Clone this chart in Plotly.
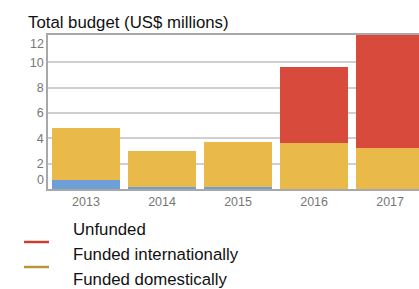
import plotly.graph_objects as go

years = ["2013", "2014", "2015", "2016", "2017"]
funded_domestically = [0.7, 0.15, 0.15, 0.0, 0.0]
funded_internationally = [4.15, 2.85, 3.55, 3.6, 3.25]
unfunded = [0.0, 0.0, 0.0, 6.0, 9.6]
y_ticks = [2, 4, 6, 8, 10]

series_names = ["Unfunded", "Funded internationally", "Funded domestically"]
bar_colors = {"Unfunded": "#d84b3c", "Funded internationally": "#e9ba4a", "Funded domestically": "#6e9fd6"}
legend_colors = {"Unfunded": "#c9402f", "Funded internationally": "#b8963a", "Funded domestically": "#6e9fd6"}

W, H = 419, 289
ML, MT, MB = 48, 35, 100
plot_h = H - MT - MB

def py(pix):
    return (H - MB - pix) / plot_h

def px(pix):
    return (pix - ML) / (W - ML)

fig = go.Figure()
for name, vals in [("Funded domestically", funded_domestically),
                   ("Funded internationally", funded_internationally),
                   ("Unfunded", unfunded)]:
    fig.add_trace(go.Bar(x=years, y=vals, name=name, marker_color=bar_colors[name],
                         marker_line_width=0, showlegend=False, hoverinfo="skip"))

fig.update_layout(
    width=W, height=H, barmode="stack", bargap=0.105,
    margin=dict(l=ML, r=0, t=MT, b=MB, pad=0),
    plot_bgcolor="white", paper_bgcolor="white",
    font=dict(family="Liberation Sans, Arial, sans-serif"),
    xaxis=dict(range=[-0.5, 4.38], showline=True, linecolor="#a8a8a8", linewidth=1.5,
               mirror=True, ticks="", showgrid=False,
               tickfont=dict(size=12.5, color="#777777")),
    yaxis=dict(range=[0, 12.15], tickvals=y_ticks, ticktext=[str(v) for v in y_ticks],
               showline=True, linecolor="#a8a8a8", linewidth=1.5, ticks="",
               gridcolor="#cfcfcf", gridwidth=1.5, zeroline=False,
               tickfont=dict(size=12.5, color="#777777")),
)

annotations = [
    dict(text="Total budget (US$ millions)", xref="paper", yref="paper",
         x=px(26), y=py(23), xanchor="left", yanchor="middle", showarrow=False,
         font=dict(size=16.8, color="#111111")),
    dict(text="0", xref="paper", yref="y", x=0, y=0.7, xanchor="right", yanchor="middle",
         xshift=-2, showarrow=False, font=dict(size=12.5, color="#777777")),
    dict(text="12", xref="paper", yref="y", x=0, y=11.45, xanchor="right", yanchor="middle",
         xshift=-2, showarrow=False, font=dict(size=12.5, color="#777777")),
]
shapes = []
for i, name in enumerate(series_names):
    ty = 229.5 + 25 * i
    annotations.append(dict(text=name, xref="paper", yref="paper", x=px(71), y=py(ty),
                            xanchor="left", yanchor="middle", showarrow=False,
                            font=dict(size=16.8, color="#111111")))
    ly = ty + 12.5
    shapes.append(dict(type="line", xref="paper", yref="paper", x0=px(24), x1=px(49),
                       y0=py(ly), y1=py(ly), line=dict(color=legend_colors[name], width=2.5)))

fig.update_layout(annotations=annotations, shapes=shapes)
fig.write_html("out.html", config={"displayModeBar": False},
               post_script="document.body.style.margin='0';document.body.style.overflow='hidden';")
